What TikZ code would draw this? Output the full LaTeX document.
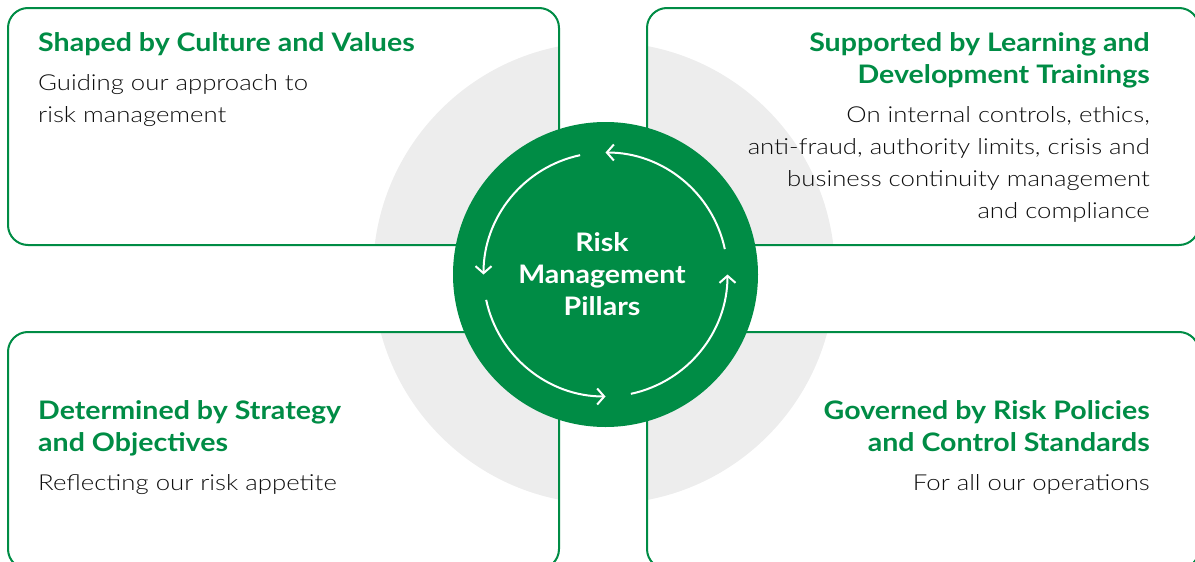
\documentclass[tikz,border=0pt]{standalone}
\usepackage{fontspec}
\setmainfont{Lato}
\newfontfamily\lightfont{Lato Light}[FakeStretch=1.17]
\newfontfamily\headfont{Lato}[FakeStretch=1.12]
\usetikzlibrary{arrows.meta,calc}
\definecolor{rmgreen}{HTML}{008C45}
\definecolor{rmgray}{HTML}{EDEDED}
\definecolor{rmtext}{HTML}{0D0D0D}
\begin{document}
\begin{tikzpicture}[x=1pt,y=-1pt,
  boxline/.style={draw=rmgreen, line width=2pt, rounded corners=20pt},
  head/.style={text=rmgreen, font=\fontsize{25.5}{32}\headfont\bfseries, inner sep=0pt},
  body/.style={text=rmtext, font=\fontsize{22}{32}\lightfont, inner sep=0pt},
  hubtext/.style={text=white, font=\fontsize{25.5}{32}\headfont\bfseries, inner sep=0pt, anchor=base},
  cyc/.style={draw=white, line width=2pt, -{Straight Barb[length=7pt,width=16pt,line width=2pt]}}]
\useasboundingbox (0,0) rectangle (1195,562);
% background disc, visible only inside the boxes
\fill[rmgray] (604,273) circle[radius=231];
\fill[white] (559,-5) rectangle (647,570);
\fill[white] (-5,245) rectangle (1200,332);
% boxes
\draw[boxline] (8,8) rectangle (559,245);
\draw[boxline] (647,8) rectangle (1199,245);
\draw[boxline] (8,332) rectangle (559,569);
\draw[boxline] (647,332) rectangle (1199,569);
% hub
\node[circle, fill=rmgreen, minimum size=305pt, inner sep=0pt] (hub) at (605.5,274.5) {};
\node[hubtext] (h1) at (602,251) {Risk};
\node[hubtext] (h2) at (602,283) {Management};
\node[hubtext] (h3) at (602,315) {Pillars};
\foreach \k in {0,1,2,3}
  \draw[cyc] ($(hub.center)+({-12-90*\k}:122)$) arc[start angle={-12-90*\k}, end angle={-90-90*\k}, radius=122];
% top left
\node[head, anchor=base west] (tl1) at (38,51) {Shaped by Culture and Values};
\node[body, anchor=base west] (tl2) at (38,90) {Guiding our approach to};
\node[body, anchor=base west] (tl3) at (38,122) {risk management};
% top right
\node[head, anchor=base east] (tr1) at (1150,51) {Supported by Learning and};
\node[head, anchor=base east] (tr2) at (1150,83) {Development Trainings};
\node[body, anchor=base east] (tr3) at (1150,122) {On internal controls, ethics,};
\node[body, anchor=base east] (tr4) at (1150,154) {anti-fraud, authority limits, crisis and};
\node[body, anchor=base east] (tr5) at (1150,186) {business continuity management};
\node[body, anchor=base east] (tr6) at (1150,218) {and compliance};
% bottom left
\node[head, anchor=base west] (bl1) at (38,419) {Determined by Strategy};
\node[head, anchor=base west] (bl2) at (38,451) {and Objectives};
\node[body, anchor=base west] (bl3) at (38,490) {Reflecting our risk appetite};
% bottom right
\node[head, anchor=base east] (br1) at (1150,419) {Governed by Risk Policies};
\node[head, anchor=base east] (br2) at (1150,451) {and Control Standards};
\node[body, anchor=base east] (br3) at (1150,490) {For all our operations};
\end{tikzpicture}
\end{document}
